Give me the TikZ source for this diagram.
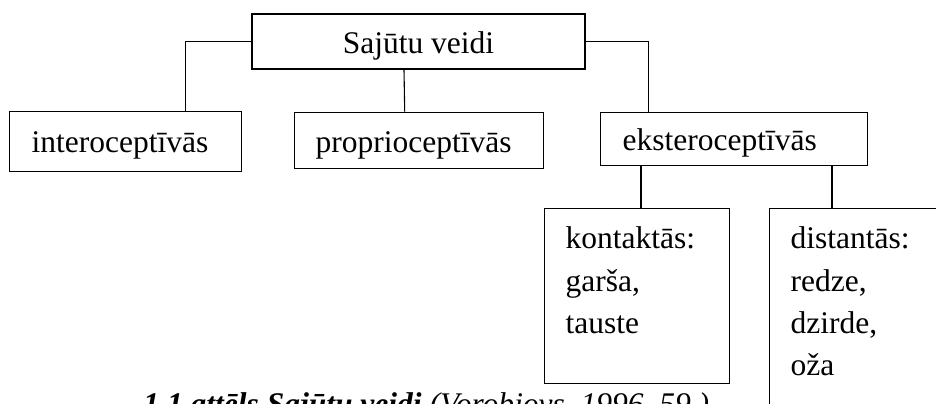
\documentclass[tikz,border=0pt]{standalone}
\usepackage{fontspec}
\setmainfont{Liberation Serif}
\begin{document}
\begin{tikzpicture}[x=0.5pt,y=-0.5pt,
  every node/.style={font=\fontsize{15.75}{21.2}\selectfont},
  box/.style={draw, line width=0.7pt, rectangle, anchor=north west, inner ysep=0pt, inner xsep=10.5pt, align=left},
  conn/.style={line width=0.55pt}]
\useasboundingbox (0,0) rectangle (936,403);
\clip (0,0) rectangle (936,403);
\fill[white] (0,0) rectangle (936,403);

\node[draw, line width=0.7pt, rectangle, inner sep=0pt, minimum width=166.5pt, minimum height=27.5pt,
      text height=11.5pt, text depth=0pt] (top) at (418.5,41.5) {Sajūtu veidi};

\node[box, inner xsep=11pt, text width=94pt, text height=20.5pt, text depth=9.5pt] (intero) at (9,111) {interoceptīvās};
\node[box, text width=103.5pt, text height=20.25pt, text depth=8pt] (proprio) at (294,111.5) {proprioceptīvās};
\node[box, inner xsep=11pt, text width=111.5pt, text height=19.25pt, text depth=7.5pt] (ekstero) at (600,111.5) {eksteroceptīvās};
\node[box, text width=71.5pt, text height=20pt, text depth=67.5pt] (kontakt) at (544,208) {kontaktās:\\garša,\\tauste};
\node[box, text width=79.5pt, text height=20pt, text depth=91pt] (distant) at (769,208) {distantās:\\redze,\\dzirde,\\oža};

\coordinate (kx) at (641,0);
\coordinate (dx) at (832,0);

\draw[conn] (top.west) -| ([xshift=30pt]intero.north);
\draw[conn] ([xshift=-7.25pt]top.south) -- ([xshift=-7.25pt]proprio.north);
\draw[conn] (top.east) -| ([xshift=-42.75pt]ekstero.north);
\draw[conn] (ekstero.south -| kx) -- (kontakt.north -| kx);
\draw[conn] (ekstero.south -| dx) -- (distant.north -| dx);

\node[anchor=base west, inner sep=0pt] (cap) at (143,414)
  {\bfseries\itshape 1.1.attēls Sajūtu veidi \normalfont\itshape(Vorobjovs, 1996, 59.)};
\end{tikzpicture}
\end{document}
